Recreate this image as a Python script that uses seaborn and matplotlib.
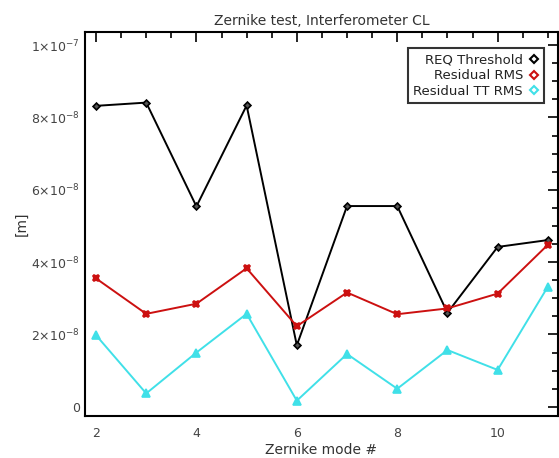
import matplotlib
matplotlib.use("Agg")
import matplotlib.pyplot as plt
import seaborn as sns
import numpy as np
import pandas as pd
from matplotlib.ticker import MultipleLocator, FuncFormatter
from matplotlib.lines import Line2D

modes = [2, 3, 4, 5, 6, 7, 8, 9, 10, 11]
req_threshold = [83.2e-9, 84.1e-9, 55.4e-9, 83.3e-9, 17.0e-9, 55.5e-9, 55.5e-9, 26.0e-9, 44.2e-9, 46.1e-9]
residual_rms = [35.5e-9, 25.7e-9, 28.5e-9, 38.3e-9, 22.3e-9, 31.6e-9, 25.6e-9, 27.2e-9, 31.3e-9, 44.8e-9]
residual_tt_rms = [19.8e-9, 3.7e-9, 15.0e-9, 25.7e-9, 1.7e-9, 14.6e-9, 5.0e-9, 15.7e-9, 10.2e-9, 33.2e-9]
series_names = ["REQ Threshold", "Residual RMS", "Residual TT RMS"]

sns.set_theme(style="white")
plt.rcParams['font.family'] = ['DejaVu Sans']

fig = plt.figure(figsize=(5.59, 4.58), dpi=100)
ax = fig.add_axes([0.152, 0.092, 0.846, 0.838])

colors = ["black", "#cc1010", "#40e0e8"]
markers = ["D", "X", "^"]
msizes = [3.5, 5, 6]
for vals, c, m, ms in zip([req_threshold, residual_rms, residual_tt_rms], colors, markers, msizes):
    df = pd.DataFrame({"x": modes, "y": vals})
    sns.lineplot(data=df, x="x", y="y", ax=ax, color=c, lw=1.4, marker=m,
                 markersize=ms, markeredgecolor=c, markerfacecolor=c if m != "D" else "#555555",
                 markeredgewidth=1.2, legend=False)

ax.set_xlim(1.78, 11.2)
ax.set_ylim(-2.5e-9, 1.036e-7)
ax.xaxis.set_major_locator(MultipleLocator(2))
ax.xaxis.set_minor_locator(MultipleLocator(0.5))
ax.yaxis.set_major_locator(MultipleLocator(2e-8))
ax.yaxis.set_minor_locator(MultipleLocator(5e-9))

def yfmt(v, pos):
    if abs(v) < 1e-12:
        return "0"
    e = int(np.floor(np.log10(abs(v)) + 1e-9))
    mant = v / 10**e
    return r"%d$\times$10$^{%d}$" % (round(mant), e)

ax.yaxis.set_major_formatter(FuncFormatter(yfmt))
ax.tick_params(which="both", direction="in", top=True, right=True, colors="black",
               labelsize=9, labelcolor="#444444")
ax.tick_params(which="major", length=7, width=1.2)
ax.tick_params(which="minor", length=4, width=1.2)
ax.tick_params(axis="x", pad=8)
for s in ax.spines.values():
    s.set_color("black")
    s.set_linewidth(1.5)

ax.set_title("Zernike test, Interferometer CL", fontsize=10, color="#333333", pad=5)
ax.set_xlabel("Zernike mode #", fontsize=10, color="#333333", labelpad=2)
ax.set_ylabel("[m]", fontsize=10, color="#333333", labelpad=2)

handles = [Line2D([], [], ls="none", marker="D", markersize=4, markerfacecolor="none",
                  markeredgecolor=c, markeredgewidth=1.5) for c in colors]
leg = ax.legend(handles, series_names, loc="upper right", markerfirst=False,
                frameon=True, fancybox=False, fontsize=9.5, handlelength=0.8,
                handletextpad=0.4, borderpad=0.4, labelspacing=0.2,
                bbox_to_anchor=(0.985, 0.975))
leg.get_frame().set_edgecolor("black")
leg.get_frame().set_linewidth(1.5)
for t in leg.get_texts():
    t.set_ha("right")
    t.set_color("#222222")
leg._legend_box.align = "right"

fig.savefig("out.png", dpi=100)
